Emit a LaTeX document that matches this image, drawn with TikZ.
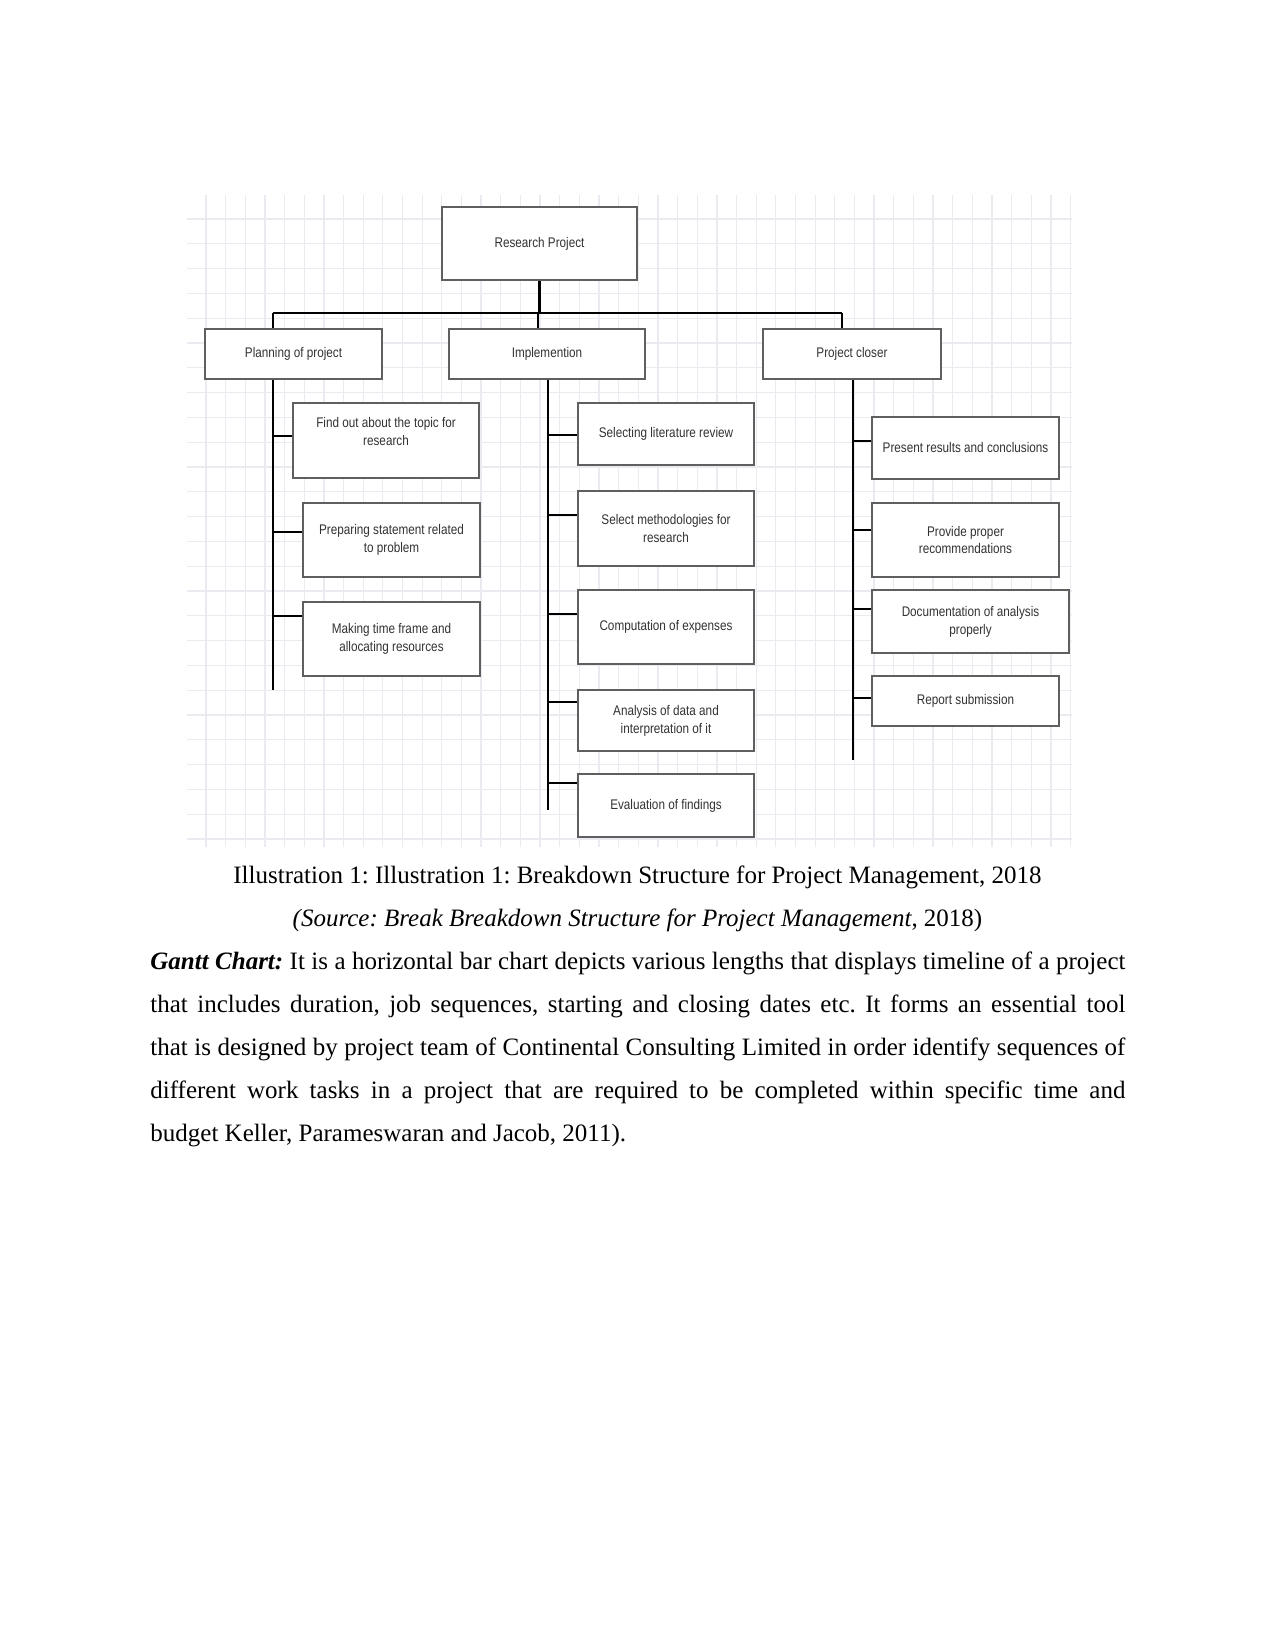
\documentclass[tikz,border=0pt]{standalone}
\usepackage{fontspec}
\setmainfont{Liberation Serif}
\newfontfamily\boxfont[FakeStretch=0.84]{Liberation Sans}
\usetikzlibrary{calc,shadows}
\definecolor{gridc}{RGB}{234,234,240}
\definecolor{boxline}{RGB}{95,95,95}
\definecolor{boxtext}{RGB}{50,50,50}
\frenchspacing
\begin{document}
\begin{tikzpicture}[x=0.48pt,y=-0.48pt,
  box/.style={draw=boxline, line width=0.8pt, fill=white, rectangle, inner sep=1pt,
    align=center, font=\boxfont\fontsize{6.7pt}{8.6pt}\selectfont, text=boxtext,
    drop shadow={shadow xshift=0.4pt, shadow yshift=-0.7pt, fill=black!60, opacity=0.6}},
  wh/.style 2 args={minimum width=#1*0.48pt, minimum height=#2*0.48pt},
  conn/.style={draw=black, line width=1.2pt},
  gridline/.style={draw=gridc, line width=0.6pt},
  body/.style={font=\fontsize{12pt}{14pt}\selectfont, inner sep=0pt, anchor=base west},
  capt/.style={font=\fontsize{12pt}{14pt}\selectfont, inner sep=0pt, anchor=base}]
\useasboundingbox (0,0) rectangle (1275,1651);
\fill[white] (0,0) rectangle (1275,1651);

% background grid
\foreach \k in {0,...,25} {\draw[gridline] (187,219+24.8*\k) -- (1072,219+24.8*\k);}
\foreach \k in {0,...,44} {\draw[gridline] (206+19.65*\k,195) -- (206+19.65*\k,847);}

% boxes
\node[box, wh={195}{73}] (rp) at (539.5,243.5) {Research Project};
\node[box, wh={177}{50}] (plan) at (293.5,354) {Planning of project};
\node[box, wh={196}{50}] (impl) at (547,354) {Implemention};
\node[box, wh={178}{50}] (close) at (852,354) {Project closer};

\node[box, wh={186}{75}] (find) at (386,440.5) {Find out about the topic for\\research\\\phantom{x}};
\node[box, wh={177}{74}] (prep) at (391.5,540) {Preparing statement related\\to problem};
\node[box, wh={177}{74}] (make) at (391.5,639) {Making time frame and\\allocating resources};

\node[box, wh={176}{62}] (sel) at (666,434) {Selecting literature review};
\node[box, wh={176}{75}] (meth) at (666,528.5) {Select methodologies for\\research};
\node[box, wh={176}{74}] (comp) at (666,627) {Computation of expenses};
\node[box, wh={176}{61}] (anal) at (666,720.5) {Analysis of data and\\interpretation of it};
\node[box, wh={176}{63}] (eval) at (666,805.5) {Evaluation of findings};

\node[box, wh={187}{62}] (pres) at (965.5,448) {Present results and conclusions};
\node[box, wh={187}{74}] (prov) at (965.5,540) {Provide proper\\recommendations};
\node[box, wh={197}{63}] (doc) at (970.5,621.5) {Documentation of analysis\\properly};
\node[box, wh={187}{50}] (rep) at (965.5,701) {Report submission};

% bus
\coordinate (busL) at (273,313);
\coordinate (busM) at (538,313);
\coordinate (busR) at (842,313);
\draw[conn] (rp.south) -- (rp.south |- busL);
\draw[conn] (busL) -- (busR);
\draw[conn] (busL) -- (busL |- plan.north);
\draw[conn] (busM) -- (busM |- impl.north);
\draw[conn] (busR) -- (busR |- close.north);

% spines
\coordinate (planEnd) at (273,690);
\coordinate (implEnd) at (548,810);
\coordinate (closeEnd) at (853,760);
\draw[conn] (planEnd |- plan.south) -- (planEnd);
\draw[conn] (implEnd |- impl.south) -- (implEnd);
\draw[conn] (closeEnd |- close.south) -- (closeEnd);

% ticks
\foreach \n/\o in {find/34, prep/30, make/15}
  {\draw[conn] ($(\n.north west)+(0,\o)$) -- (planEnd |- {$(\n.north west)+(0,\o)$});}
\foreach \n/\o in {sel/33, meth/25, comp/25, anal/13, eval/10}
  {\draw[conn] ($(\n.north west)+(0,\o)$) -- (implEnd |- {$(\n.north west)+(0,\o)$});}
\foreach \n/\o in {pres/25, prov/28, doc/20, rep/23}
  {\draw[conn] ($(\n.north west)+(0,\o)$) -- (closeEnd |- {$(\n.north west)+(0,\o)$});}

% caption and body text
\node[capt] (cap) at (637.5,883) {Illustration 1: Illustration 1: Breakdown Structure for Project Management, 2018};
\node[capt] (src) at (637.5,926) {\textit{(Source: Break Breakdown Structure for Project Management}, 2018)};
\node[body] (l1) at (150,969) {\makebox[468pt][s]{\textbf{\textit{Gantt Chart:}} It is a horizontal bar chart depicts various lengths that displays timeline of a project}};
\node[body] (l2) at (150,1012) {\makebox[468pt][s]{that includes duration, job sequences, starting and closing dates etc. It forms an essential tool}};
\node[body] (l3) at (150,1055) {\makebox[468pt][s]{that is designed by project team of Continental Consulting Limited in order identify sequences of}};
\node[body] (l4) at (150,1098) {\makebox[468pt][s]{different work tasks in a project that are required to be completed within specific time and}};
\node[body] (l5) at (150,1141) {budget Keller, Parameswaran and Jacob, 2011).};
\end{tikzpicture}
\end{document}
